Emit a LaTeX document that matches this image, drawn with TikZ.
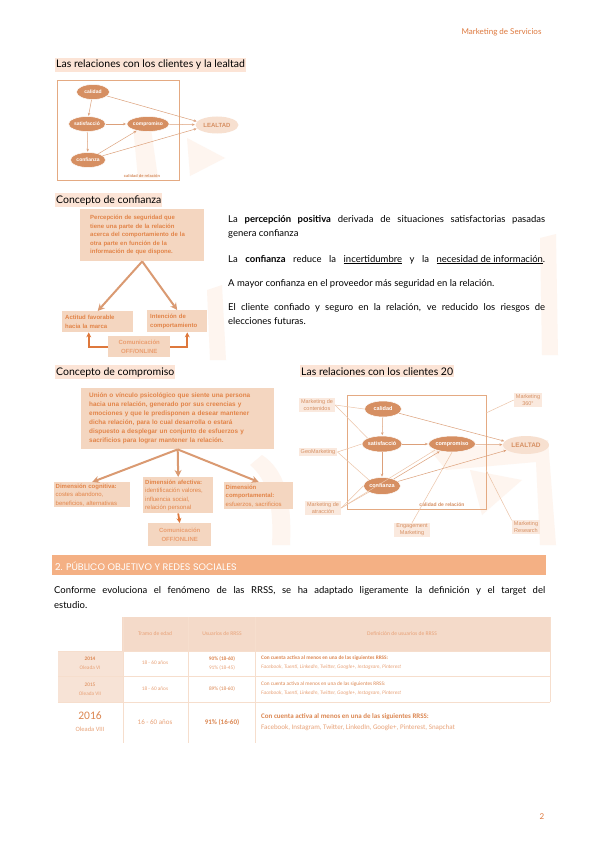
\documentclass[tikz,border=0pt]{standalone}
\usepackage{fontspec}
\setmainfont{Lato}
\newfontfamily\diagfont{Liberation Sans}
\newfontfamily\tabfont{Carlito}
\newfontfamily\barfont{Poppins}
\usetikzlibrary{shapes.geometric,arrows.meta,positioning}

\definecolor{naranja}{RGB}{214,143,98}
\definecolor{naranjaosc}{RGB}{222,120,60}
\definecolor{melocoton}{RGB}{252,228,214}
\definecolor{cajafondo}{RGB}{244,214,192}
\definecolor{cajatexto}{RGB}{226,132,72}
\definecolor{textoclaro}{RGB}{234,158,112}
\definecolor{marco}{RGB}{228,170,130}
\definecolor{linea}{RGB}{236,196,168}
\definecolor{etiqueta}{RGB}{250,233,222}
\definecolor{marca}{RGB}{254,245,239}
\definecolor{barra}{RGB}{244,176,132}
\definecolor{tabfondo}{RGB}{244,218,201}
\definecolor{tablinea}{RGB}{246,222,205}
\definecolor{tabtexto}{RGB}{232,162,120}
\definecolor{tabfuerte}{RGB}{220,135,82}

\newcommand{\jline}[2]{\makebox[#1][s]{#2}}

\tikzset{
  titulo/.style={anchor=base west, fill=melocoton, inner xsep=1pt, inner ysep=2pt, font=\fontsize{10.5}{12}\selectfont},
  cuerpo/.style={anchor=base west, inner sep=0pt, font=\fontsize{9.5}{11}\selectfont},
  ell/.style={ellipse, fill=naranja, draw=white, line width=0.5pt, text=white, inner sep=0pt, minimum height=15pt, font=\diagfont\bfseries\fontsize{5}{6}\selectfont},
  leal/.style={ellipse, fill=cajafondo!75, text=naranja, inner sep=0pt, minimum height=17pt, font=\diagfont\bfseries\fontsize{6}{7}\selectfont},
  marcorel/.style={draw=marco, line width=1pt},
  flecha/.style={draw=naranja!85, line width=0.5pt, -{Stealth[length=3pt,width=2.5pt]}, shorten >=0.5pt},
  caja/.style={fill=cajafondo, text=cajatexto, inner sep=0pt, align=left, font=\diagfont\fontsize{6}{8.5}\selectfont},
  cajaclara/.style={fill=cajafondo, text=textoclaro, align=center, inner sep=0pt, font=\diagfont\bfseries\fontsize{6}{8.5}\selectfont},
  flechagr/.style={draw=naranja!90, line width=2pt, -{Stealth[length=7pt,width=7pt]}},
  flechacodo/.style={draw=naranjaosc, line width=1.8pt, -{Stealth[length=5pt,width=5pt]}},
  etq/.style={fill=etiqueta, text=naranja, align=center, inner xsep=2pt, inner ysep=1pt, font=\diagfont\fontsize{5.5}{7}\selectfont},
  enlace/.style={draw=linea, line width=0.5pt},
  celda/.style={font=\tabfont\fontsize{5.3}{9}\selectfont, text=tabtexto, align=center, inner sep=0pt},
}

\begin{document}
\begin{tikzpicture}[x=1pt,y=-1pt]
\useasboundingbox[fill=white] (0,0) rectangle (599,848);

% faint background logo
\fill[marca] (133,126) -- (150,122) -- (158,178) -- (138,178) -- cycle;
\fill[marca] (187,138) -- (225,158) -- (190,176) -- cycle;
\fill[marca] (207,290) -- (222,285) -- (226,360) -- (210,360) -- cycle;
\fill[marca] (540,238) -- (556,234) -- (558,355) -- (542,355) -- cycle;
\fill[marca] (262,455) .. controls (285,470) and (292,500) .. (290,545) -- (272,545) .. controls (274,505) and (268,480) .. (250,465) -- cycle;
\fill[marca] (430,450) -- (548,440) -- (556,545) -- (540,545) -- (536,462) -- (446,470) -- cycle;
\fill[marca] (470,470) -- (522,480) -- (482,515) -- cycle;

% header
\node[anchor=base east, text=naranjaosc, font=\fontsize{8}{10}\selectfont] (cab) at (545,35) {Marketing de Servicios};

%% Las relaciones con los clientes y la lealtad
\node[titulo] (t1) at (55,68) {Las relaciones con los clientes y la lealtad};
\draw[marcorel] (57,81) rectangle (179,180);
\node[ell, minimum width=33pt] (cal1) at (93,92) {calidad};
\node[ell, minimum width=37pt] (sat1) at (87,124) {satisfacció};
\node[ell, minimum width=40pt] (com1) at (148,124) {compromiso};
\node[ell, minimum width=35pt] (conf1) at (88,160) {confianza};
\node[leal, minimum width=43pt] (leal1) at (217,125) {LEALTAD};
\node[text=naranja, font=\diagfont\bfseries\fontsize{4}{5}\selectfont, inner sep=0pt] (cr1) at (142,176.5) {calidad de relación};

\draw[flecha] (cal1) -- (sat1);
\draw[flecha] (sat1) -- (conf1);
\draw[flecha] (cal1) -- (leal1.170);
\draw[flecha] (sat1) -- (com1);
\draw[flecha] (conf1) -- (com1);
\draw[flecha] (com1) -- (leal1);
\draw[flecha] (conf1) -- (leal1.190);

%% Concepto de confianza
\node[titulo] (t2) at (55,203) {Concepto de confianza};
\node[caja, font=\diagfont\bfseries\fontsize{6}{8.5}\selectfont, anchor=north west, minimum width=124pt, minimum height=52pt, text width=104pt, inner xsep=10pt] (perc) at (80,209)
  {Percepción de seguridad que\\tiene una parte de la relación\\acerca del comportamiento de la\\otra parte en función de la\\información de que dispone.};
\node[caja, font=\diagfont\bfseries\fontsize{6}{8.5}\selectfont, anchor=north west, minimum width=71pt, minimum height=21pt, text width=65pt, inner xsep=3pt] (act) at (62,311) {Actitud favorable\\hacia la marca};
\node[caja, font=\diagfont\bfseries\fontsize{6}{8.5}\selectfont, anchor=north west, minimum width=60pt, minimum height=22pt, text width=54pt, inner xsep=3pt] (int) at (147,310) {Intención de\\comportamiento};
\node[cajaclara, anchor=north west, minimum width=62pt, minimum height=21pt] (comu1) at (108,336) {Comunicación\\OFF/ONLINE};

\draw[flechagr] (perc.south) -- (act.north);
\draw[flechagr] (perc.south) -- (int.north);
\draw[flechacodo] (comu1.west) -| ([xshift=-9pt]act.south);
\draw[flechacodo] (comu1.east) -| ([xshift=10pt]int.south);

% texto
\node[cuerpo] (p1a) at (228,222) {\jline{317pt}{La \textbf{percepción positiva} derivada de situaciones satisfactorias pasadas}};
\node[cuerpo] (p1b) at (228,236) {genera confianza};
\node[cuerpo] (p2) at (228,262) {\jline{317pt}{La \textbf{confianza} reduce la \underline{incertidumbre} y la \underline{necesidad de información}.}};
\node[cuerpo] (p3) at (228,286) {A mayor confianza en el proveedor más seguridad en la relación.};
\node[cuerpo] (p4a) at (228,310) {\jline{317pt}{El cliente confiado y seguro en la relación, ve reducido los riesgos de}};
\node[cuerpo] (p4b) at (228,324) {elecciones futuras.};

%% Concepto de compromiso
\node[titulo] (t3) at (55,375) {Concepto de compromiso};
\node[caja, font=\diagfont\bfseries\fontsize{6.4}{9}\selectfont, anchor=north west, minimum width=193pt, minimum height=61pt, text width=177pt, inner xsep=8pt] (uni) at (81,388)
  {Unión o vínculo psicológico que siente una persona\\hacia una relación, generado por sus creencias y\\emociones y que le predisponen a desear mantener\\dicha relación, para lo cual desarrolla o estará\\dispuesto a desplegar un conjunto de esfuerzos y\\sacrificios para lograr mantener la relación.};
\node[caja, anchor=north west, minimum width=76pt, minimum height=25pt, text width=73pt, inner xsep=1.5pt] (cog) at (54,482) {\textbf{Dimensión cognitiva:}\\costes abandono,\\beneficios, alternativas};
\node[caja, anchor=north west, minimum width=70pt, minimum height=36pt, text width=66pt, inner xsep=2pt] (afe) at (143,477) {\textbf{Dimensión afectiva:}\\identificación valores,\\influencia social,\\relación personal};
\node[caja, anchor=north west, minimum width=69pt, minimum height=27pt, text width=66pt, inner xsep=1.5pt] (comp) at (224,482) {\textbf{Dimensión}\\\textbf{comportamental:}\\esfuerzos, sacrificios};
\node[cajaclara, anchor=north west, minimum width=63pt, minimum height=23pt] (comu2) at (148,523) {Comunicación\\OFF/ONLINE};

\draw[flechagr] (uni.south) -- (cog.north);
\draw[flechagr] (uni.south) -- (afe.north);
\draw[flechagr] (uni.south) -- (comp.north);
\draw[flechacodo] (afe.south) -- (comu2.north);

%% Las relaciones con los clientes 2.0
\node[titulo] (t4) at (300,375) {Las relaciones con los clientes 20};
\draw[marcorel] (347,395) rectangle (486,509);
\coordinate (marcoder) at (486,470);
\coordinate (marcosup) at (486,413);

\node[etq] (mc) at (317,405) {Marketing de\\contenidos};
\node[etq] (geo) at (318,452) {GeoMarketing};
\node[etq] (ma) at (323,508) {Marketing de\\atracción};
\node[etq] (em) at (412,530) {Engagement\\Marketing};
\node[etq] (mr) at (526,527) {Marketing\\Research};
\node[etq] (m360) at (528,400) {Marketing\\360°};

\node[ell, minimum width=37pt, minimum height=16pt, font=\diagfont\bfseries\fontsize{5.5}{6}\selectfont] (cal2) at (383,409) {calidad};
\node[ell, minimum width=40pt, minimum height=16pt, font=\diagfont\bfseries\fontsize{5.5}{6}\selectfont] (sat2) at (382,444) {satisfacció};
\node[ell, minimum width=44pt, minimum height=16pt, font=\diagfont\bfseries\fontsize{5.5}{6}\selectfont] (com2) at (452,444) {compromiso};
\node[ell, minimum width=37pt, minimum height=17pt, font=\diagfont\bfseries\fontsize{5.5}{6}\selectfont] (conf2) at (382,486) {confianza};
\node[leal, minimum width=46pt, minimum height=18pt, font=\diagfont\bfseries\fontsize{6.5}{7}\selectfont] (leal2) at (526,445) {LEALTAD};
\node[text=naranja, font=\diagfont\bfseries\fontsize{5}{6}\selectfont, inner sep=0pt] (cr2) at (442,505) {calidad de relación};

\draw[enlace] (mc.east) -- (cal2.west);
\draw[enlace] (mc.east) -- (sat2.north west);
\draw[enlace] (geo.east) -- (sat2.west);
\draw[enlace] (geo.east) -- (conf2.north west);
\draw[enlace] (ma.east) -- (conf2.south west);
\draw[enlace] (ma.east) -- (conf2.west);
\draw[enlace] (ma.east) -- (com2.south west);
\draw[enlace] (em.north) -- (com2.south);
\draw[enlace] (mr.north west) -- (marcoder);
\draw[enlace] (m360.west) -- (marcosup);

\draw[flecha] (cal2) -- (sat2);
\draw[flecha] (sat2) -- (conf2);
\draw[flecha] (cal2) -- (leal2.170);
\draw[flecha] (sat2) -- (com2);
\draw[flecha] (conf2) -- (com2);
\draw[flecha] (com2) -- (leal2);
\draw[flecha] (conf2) -- (leal2.195);

%% 2. Publico objetivo y redes sociales
\fill[barra] (52,555) rectangle (546,575);
\node[anchor=base west, text=white, inner sep=0pt, font=\barfont\fontsize{9.5}{11}\selectfont] (sec2) at (55,570) {2. PÚBLICO OBJETIVO Y REDES SOCIALES};

\node[cuerpo] (c1) at (54,593) {\jline{491pt}{Conforme evoluciona el fenómeno de las RRSS, se ha adaptado ligeramente la definición y el target del}};
\node[cuerpo] (c2) at (54,608) {estudio.};

% tabla
\fill[tabfondo] (122,617) rectangle (550,651);
\fill[tabfondo!75] (58,651) rectangle (123,702);
\draw[tablinea, line width=0.6pt] (58,651) -- (550,651) (58,676) -- (550,676) (58,702) -- (550,702);
\draw[tablinea, line width=0.6pt] (550,617) -- (550,702);
\foreach \cx in {123,188,255} \draw[tablinea, line width=0.6pt] (\cx,617) -- (\cx,743);

\node[celda, font=\tabfont\fontsize{5.6}{7}\selectfont] (h1) at (155,634) {Tramo de edad};
\node[celda, font=\tabfont\fontsize{5.6}{7}\selectfont] (h2) at (222,634) {Usuarios de RRSS};
\node[celda, font=\tabfont\fontsize{5.6}{7}\selectfont] (h3) at (402,634) {Definición de usuarios de RRSS};

\node[celda] (a14) at (90,663) {{\color{tabfuerte}\bfseries 2014}\\Oleada VI};
\node[celda] (e14) at (155,663) {18 - 60 años};
\node[celda] (u14) at (222,663) {{\color{tabfuerte}\bfseries 90\% (18-60)}\\91\% (18-45)};
\node[celda, anchor=west, align=left] (d14) at (261,663) {{\color{tabfuerte}\bfseries Con cuenta activa al menos en una de las siguientes RRSS:}\\\textit{Facebook, Tuenti, LinkedIn, Twitter, Google+, Instagram, Pinterest}};

\node[celda] (a15) at (90,689) {{\color{tabfuerte}2015}\\Oleada VII};
\node[celda] (e15) at (155,689) {18 - 60 años};
\node[celda] (u15) at (222,689) {{\color{tabfuerte}89\% (18-60)}};
\node[celda, anchor=west, align=left] (d15) at (261,689) {{\color{tabfuerte}Con cuenta activa al menos en una de las siguientes RRSS:}\\\textit{Facebook, Tuenti, LinkedIn, Twitter, Google+, Instagram, Pinterest}};

\node[celda, font=\tabfont\fontsize{6.5}{12}\selectfont] (a16) at (90,722) {{\color{tabfuerte}\fontsize{11.5}{12}\selectfont 2016}\\Oleada VIII};
\node[celda, font=\tabfont\fontsize{7}{9}\selectfont] (e16) at (155,722) {16 - 60 años};
\node[celda, font=\tabfont\bfseries\fontsize{7}{9}\selectfont, text=tabfuerte] (u16) at (222,722) {91\% (16-60)};
\node[celda, anchor=west, align=left, font=\tabfont\fontsize{7}{10.5}\selectfont] (d16) at (261,722) {{\color{tabfuerte}\bfseries Con cuenta activa al menos en una de las siguientes RRSS:}\\Facebook, Instagram, Twitter, LinkedIn, Google+, Pinterest, Snapchat};

% numero de pagina
\node[text=naranjaosc, font=\fontsize{8}{10}\selectfont] (pag) at (542,817) {2};

\end{tikzpicture}
\end{document}
